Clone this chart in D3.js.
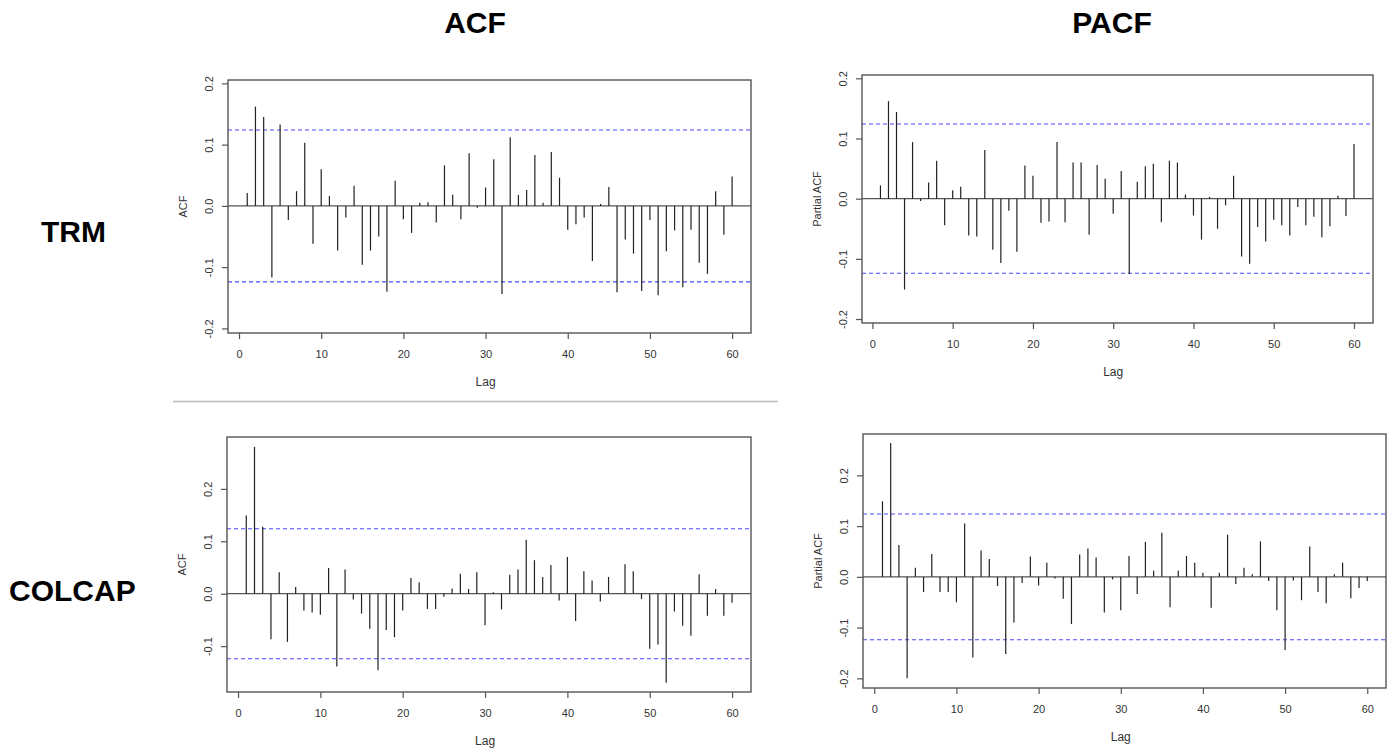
<!DOCTYPE html>
<html>
<head>
<meta charset="utf-8">
<script src="https://cdn.jsdelivr.net/npm/d3@7"></script>
<style>
  body { margin: 0; background: #fff; }
  svg { display: block; font-family: "Liberation Sans", Arial, sans-serif; }
</style>
</head>
<body>
<svg id="chart" width="1394" height="750"></svg>
<script>
// data
const lags = d3.range(1, 61)
const xTicks = [0, 10, 20, 30, 40, 50, 60]

const trmAcf = [0.021, 0.162, 0.145, -0.117, 0.133, -0.023, 0.024, 0.103, -0.062, 0.060,
  0.016, -0.073, -0.019, 0.033, -0.096, -0.073, -0.050, -0.140, 0.041, -0.022,
  -0.044, 0.005, 0.006, -0.027, 0.066, 0.018, -0.022, 0.086, -0.003, 0.030,
  0.076, -0.144, 0.112, 0.018, 0.026, 0.083, 0.005, 0.088, 0.046, -0.039,
  -0.030, -0.019, -0.090, 0.003, 0.031, -0.141, -0.055, -0.078, -0.139, -0.023,
  -0.146, -0.074, -0.040, -0.133, -0.039, -0.093, -0.111, 0.024, -0.047, 0.048]

const trmPacf = [0.022, 0.162, 0.144, -0.151, 0.094, -0.004, 0.027, 0.063, -0.044, 0.014,
  0.020, -0.061, -0.063, 0.081, -0.085, -0.107, -0.020, -0.088, 0.055, 0.038,
  -0.040, -0.038, 0.094, -0.039, 0.060, 0.060, -0.060, 0.056, 0.033, -0.025,
  0.046, -0.125, 0.028, 0.054, 0.058, -0.039, 0.063, 0.060, 0.007, -0.028,
  -0.068, 0.003, -0.050, -0.011, 0.038, -0.096, -0.108, -0.047, -0.071, -0.035,
  -0.044, -0.061, -0.014, -0.044, -0.030, -0.064, -0.046, 0.005, -0.029, 0.091]

const colcapAcf = [0.149, 0.280, 0.128, -0.087, 0.041, -0.092, 0.013, -0.032, -0.036, -0.040,
  0.049, -0.139, 0.046, -0.011, -0.038, -0.067, -0.146, -0.069, -0.083, -0.032,
  0.030, 0.022, -0.029, -0.029, -0.006, 0.010, 0.038, 0.009, 0.041, -0.060,
  0.003, -0.030, 0.036, 0.046, 0.103, 0.064, 0.032, 0.055, -0.013, 0.070,
  -0.052, 0.043, 0.025, -0.015, 0.032, 0.001, 0.056, 0.043, -0.010, -0.105,
  -0.097, -0.170, -0.034, -0.061, -0.080, 0.037, -0.042, 0.009, -0.042, -0.017]

const colcapPacf = [0.149, 0.264, 0.063, -0.200, 0.018, -0.030, 0.045, -0.030, -0.030, -0.050,
  0.105, -0.159, 0.052, 0.035, -0.018, -0.152, -0.090, -0.012, 0.040, -0.017,
  0.028, -0.003, -0.043, -0.093, 0.044, 0.056, 0.038, -0.070, -0.005, -0.066,
  0.041, -0.034, 0.069, 0.012, 0.087, -0.060, 0.012, 0.041, 0.028, 0.008,
  -0.061, 0.008, 0.083, -0.014, 0.018, 0.005, 0.070, -0.008, -0.066, -0.144,
  -0.007, -0.046, 0.060, -0.030, -0.052, 0.005, 0.028, -0.042, -0.022, -0.008]

const ciBound = 0.124

const svg = d3.select("#chart")

// panels: box in page pixels, value range of the box
const panels = [
  {values: trmAcf, ylab: "ACF", box: [228, 80, 751, 333], ydom: [-0.2075, 0.2055], xdom: [-1.34, 62.3], yticks: [-0.2, -0.1, 0, 0.1, 0.2]},
  {values: trmPacf, ylab: "Partial ACF", box: [862, 75, 1373, 323], ydom: [-0.2066, 0.2055], xdom: [-1.3, 62.37], yticks: [-0.2, -0.1, 0, 0.1, 0.2]},
  {values: colcapAcf, ylab: "ACF", box: [227, 437, 751, 692], ydom: [-0.1875, 0.299], xdom: [-1.34, 62.3], yticks: [-0.1, 0, 0.1, 0.2]},
  {values: colcapPacf, ylab: "Partial ACF", box: [863, 434, 1386, 688], ydom: [-0.219, 0.2815], xdom: [-1.37, 62.28], yticks: [-0.2, -0.1, 0, 0.1, 0.2]}
]

const fmt = d => d3.format(".1f")(d).replace("\u2212", "-")

panels.forEach(function(p){
  const [x0, y0, x1, y1] = p.box
  const x = d3.scaleLinear().domain(p.xdom).range([x0, x1])
  const y = d3.scaleLinear().domain(p.ydom).range([y1, y0])
  const g = svg.append("g")

  // confidence bounds
  g.selectAll(".ci")
    .data([ciBound, -ciBound])
    .enter()
    .append("line")
      .attr("x1", x0).attr("x2", x1)
      .attr("y1", d => y(d)).attr("y2", d => y(d))
      .attr("stroke", "#4a4aff")
      .attr("stroke-width", 1.1)
      .attr("stroke-dasharray", "4,3")

  // zero line
  g.append("line")
    .attr("x1", x0).attr("x2", x1)
    .attr("y1", y(0)).attr("y2", y(0))
    .attr("stroke", "#555")
    .attr("stroke-width", 1.3)

  // spikes
  g.selectAll(".spike")
    .data(lags)
    .enter()
    .append("line")
      .attr("class", "spike")
      .attr("x1", d => x(d)).attr("x2", d => x(d))
      .attr("y1", y(0))
      .attr("y2", (d, i) => y(p.values[i]))
      .attr("stroke", "#222")
      .attr("stroke-width", 1.2)

  // box
  g.append("rect")
    .attr("x", x0).attr("y", y0)
    .attr("width", x1 - x0).attr("height", y1 - y0)
    .attr("fill", "none")
    .attr("stroke", "#555")
    .attr("stroke-width", 1.4)

  // x axis
  const xa = g.append("g")
    .attr("transform", "translate(0," + y1 + ")")
    .call(d3.axisBottom(x).tickValues(xTicks).tickSize(6).tickPadding(11).tickFormat(d3.format("d")))
  xa.select(".domain").remove()
  xa.selectAll("line").attr("stroke", "#555").attr("stroke-width", 1.2)
  xa.selectAll("text").attr("fill", "#333").style("font-size", "11px")

  // y axis, labels turned like R does
  const ya = g.append("g")
    .attr("transform", "translate(" + x0 + ",0)")
    .call(d3.axisLeft(y).tickValues(p.yticks).tickSize(6).tickFormat(fmt))
  ya.select(".domain").remove()
  ya.selectAll("line").attr("stroke", "#555").attr("stroke-width", 1.2)
  ya.selectAll("text")
    .attr("transform", "rotate(-90)")
    .attr("x", 0).attr("y", -15).attr("dy", 0)
    .attr("fill", "#333")
    .style("text-anchor", "middle")
    .style("font-size", "11px")

  // axis titles
  g.append("text")
    .attr("x", (x(0) + x(60)) / 2)
    .attr("y", y1 + 53)
    .attr("text-anchor", "middle")
    .attr("fill", "#333")
    .style("font-size", "12px")
    .text("Lag")
  g.append("text")
    .attr("transform", "translate(" + (x0 - 41) + "," + ((y0 + y1) / 2) + ") rotate(-90)")
    .attr("text-anchor", "middle")
    .attr("fill", "#333")
    .style("font-size", "11px")
    .text(p.ylab)
})

// headings
const headings = [
  {t: "ACF", x: 475, y: 33, a: "middle"},
  {t: "PACF", x: 1112, y: 33, a: "middle"},
  {t: "TRM", x: 41, y: 242, a: "start"},
  {t: "COLCAP", x: 9, y: 601, a: "start"}
]
svg.selectAll(".heading")
  .data(headings)
  .enter()
  .append("text")
    .attr("x", d => d.x).attr("y", d => d.y)
    .attr("text-anchor", d => d.a)
    .style("font-size", "30px")
    .style("font-weight", "bold")
    .attr("fill", "#000")
    .text(d => d.t)

// separator between the two ACF rows
svg.append("line")
  .attr("x1", 173).attr("x2", 778)
  .attr("y1", 401.5).attr("y2", 401.5)
  .attr("stroke", "#bbb")
  .attr("stroke-width", 1.5)
</script>
</body>
</html>
